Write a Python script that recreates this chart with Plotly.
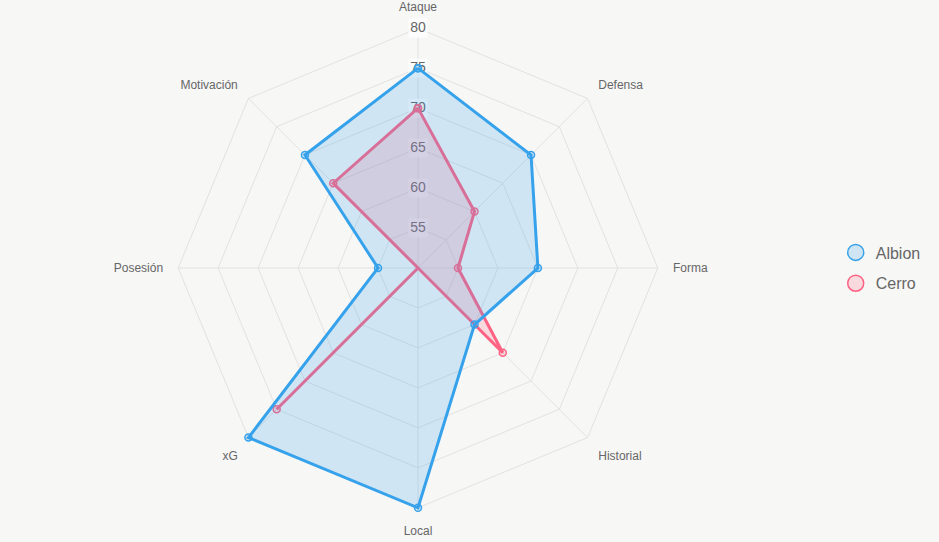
import plotly.graph_objects as go

categories = ["Ataque", "Defensa", "Forma", "Historial", "Local", "xG", "Posesión", "Motivación"]
albion = [75, 70, 65, 60, 80, 80, 55, 70]
cerro = [70, 60, 55, 65, 50, 75, 50, 65]
tick_vals = [55, 60, 65, 70, 75, 80]

series = [
    ("Albion", albion, "#36A2EB", "rgba(54,162,235,0.2)"),
    ("Cerro", cerro, "#FF6384", "rgba(255,99,132,0.2)"),
]

r_min = tick_vals[0] - 5
r_max = tick_vals[-1]
r_pad = 0.4  # a little room so lines on the outer ring are not clipped
grid = "#e2e2e2"

fig = go.Figure()
# spokes (angle lines) ending at the outer ring
spoke_r, spoke_t = [], []
for c in categories:
    spoke_r += [r_min, r_max, None]
    spoke_t += [c, c, None]
fig.add_trace(go.Scatterpolar(
    r=spoke_r, theta=spoke_t, mode="lines", line=dict(color=grid, width=1),
    showlegend=False, hoverinfo="skip", connectgaps=False,
))
# radial tick labels centred on the first spoke, with a light backdrop (under the datasets)
fig.add_trace(go.Scatterpolar(
    r=tick_vals, theta=[categories[0]] * len(tick_vals),
    mode="markers+text", text=[str(v) for v in tick_vals],
    textposition="middle center",
    textfont=dict(size=14, color="#666"),
    marker=dict(symbol="square", size=19, color="rgba(255,255,255,0.75)", line=dict(width=0)),
    showlegend=False, hoverinfo="skip", cliponaxis=False,
))
# Chart.js draws the first dataset on top, so add in reverse
for name, vals, col, fill in reversed(series):
    fig.add_trace(go.Scatterpolar(
        r=vals + vals[:1], theta=categories + categories[:1],
        mode="lines+markers", fill="toself", fillcolor=fill,
        line=dict(color=col, width=3),
        marker=dict(size=7, color=fill, line=dict(color=col, width=1.5)),
        name=name, showlegend=False, hoverinfo="skip", cliponaxis=False,
    ))
for i, (name, vals, col, fill) in enumerate(series):
    fig.add_trace(go.Scatterpolar(
        r=[None], theta=[categories[0]], mode="markers", name=name,
        legendgroup=f"g{i}",
        marker=dict(size=16, color=fill, line=dict(color=col, width=1.5)),
        showlegend=True,
    ))

radius = 240 * (r_max + r_pad - r_min) / (r_max - r_min)
cx, cy = 418, 268
fig.update_layout(
    width=939, height=542,
    paper_bgcolor="#f7f7f6", plot_bgcolor="#f7f7f6",
    margin=dict(l=0, r=0, t=cy - radius, b=542 - cy - radius),
    font=dict(family="Liberation Sans, Arial, sans-serif", color="#666"),
    polar=dict(
        domain=dict(x=[(cx - radius) / 939, (cx + radius) / 939], y=[0, 1]),
        bgcolor="#f7f7f6",
        gridshape="linear",
        radialaxis=dict(range=[r_min, r_max + r_pad], tickvals=tick_vals, showticklabels=False,
                        showline=False, gridcolor=grid, ticks=""),
        angularaxis=dict(direction="clockwise", rotation=90, showgrid=False,
                         showline=False, ticks="outside", ticklen=9,
                         tickcolor="rgba(0,0,0,0)",
                         tickfont=dict(size=12, color="#666")),
    ),
    legend=dict(x=0.89, y=0.5, xanchor="left", yanchor="middle",
                font=dict(size=16, color="#666"), bgcolor="rgba(0,0,0,0)",
                traceorder="grouped", tracegroupgap=7),
)
fig.write_html("out.html")
